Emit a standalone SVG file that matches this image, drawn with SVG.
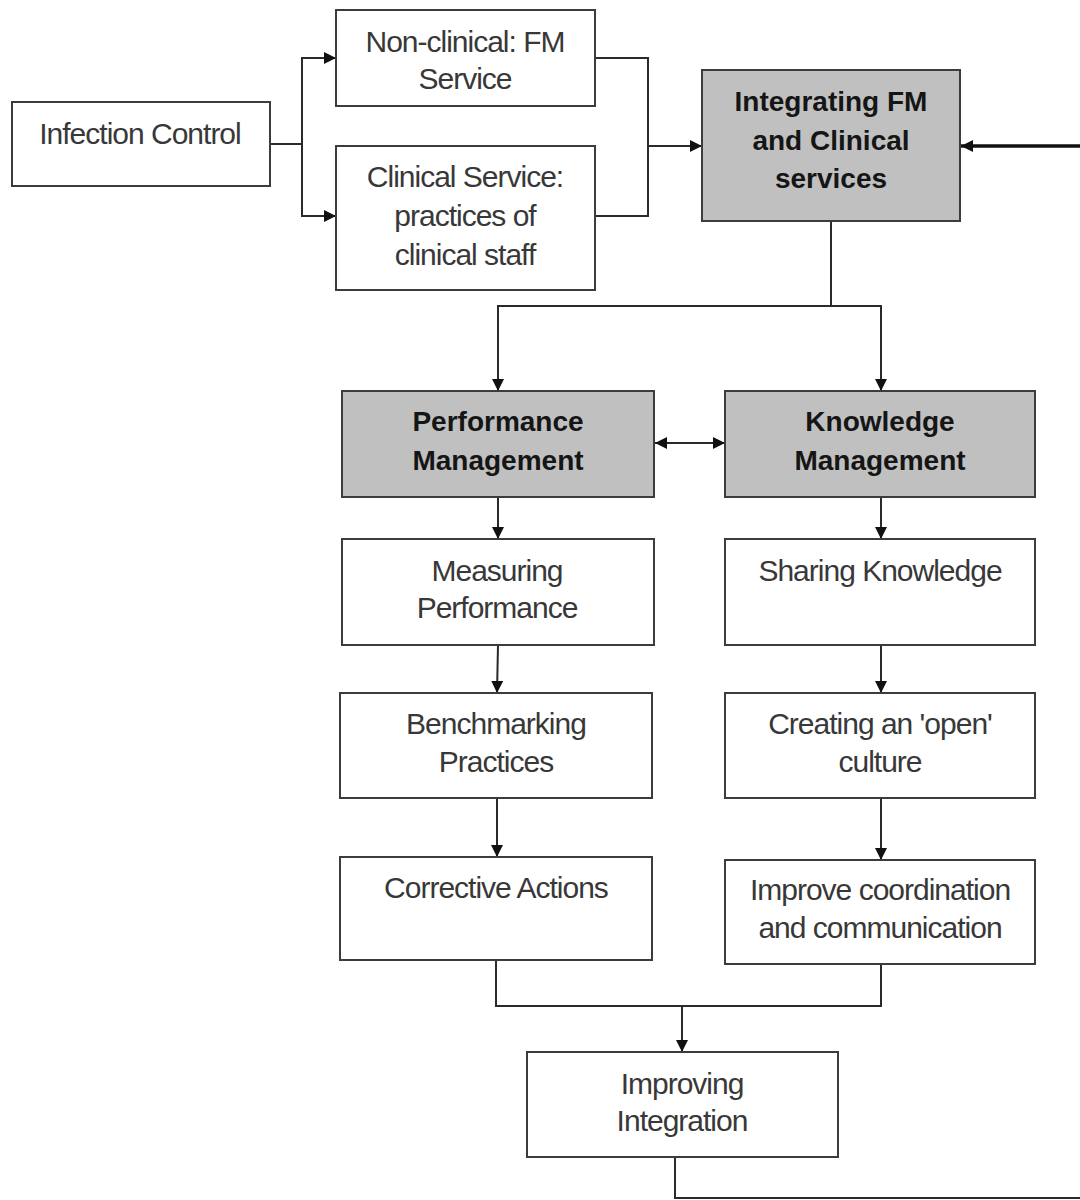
<svg xmlns="http://www.w3.org/2000/svg" width="1080" height="1200" viewBox="0 0 1080 1200">
<defs>
<marker id="ah" viewBox="0 0 10 10" refX="10" refY="5" markerWidth="12" markerHeight="12" markerUnits="userSpaceOnUse" orient="auto-start-reverse">
<path d="M0,0 L10,5 L0,10 Z" fill="#111"/>
</marker>
<style>
.box{fill:#fff;stroke:#3c3c3c;stroke-width:2}
.gbox{fill:#c0c0c0;stroke:#3c3c3c;stroke-width:2}
.t{font-family:"Liberation Sans",Arial,sans-serif;font-size:30px;letter-spacing:-1px;fill:#383838;text-anchor:middle}
.b{font-family:"Liberation Sans",Arial,sans-serif;font-size:28px;font-weight:bold;fill:#151515;text-anchor:middle}
.c{fill:none;stroke:#2a2a2a;stroke-width:2}
.ca{fill:none;stroke:#2a2a2a;stroke-width:2;marker-end:url(#ah)}
</style>
</defs>
<rect width="1080" height="1200" fill="#fff"/>
<g id="connectors">
<path class="c" d="M270,144 H302"/>
<path class="ca" d="M302,144 V58 H336"/>
<path class="ca" d="M302,144 V216 H336"/>
<path class="c" d="M595,58 H648 V216 H595"/>
<path class="ca" d="M648,146 H702"/>
<path d="M1080,146 H961" fill="none" stroke="#111" stroke-width="3.5" marker-end="url(#ah)"/>
<path class="c" d="M831,221 V306"/>
<path class="ca" d="M831,306 H498 V391"/>
<path class="ca" d="M831,306 H881 V391"/>
<path class="ca" d="M655,443 H725" style="marker-start:url(#ah)"/>
<path class="ca" d="M498,497 V539"/>
<path class="ca" d="M881,497 V539"/>
<path class="ca" d="M498,645 L497,693"/>
<path class="ca" d="M881,645 V693"/>
<path class="ca" d="M497,798 V857"/>
<path class="ca" d="M881,798 V860"/>
<path class="c" d="M496,960 V1006 H881 V964"/>
<path class="ca" d="M682,1006 V1052"/>
<path class="c" d="M675,1157 V1198 H1080"/>
</g>
<g id="infection-control">
<rect class="box" x="12" y="102" width="258" height="84"/>
<text class="t" x="140" y="144">Infection Control</text>
</g>
<g id="non-clinical">
<rect class="box" x="336" y="10" width="259" height="96"/>
<text class="t" x="465" y="52">Non-clinical: FM</text>
<text class="t" x="465" y="89">Service</text>
</g>
<g id="clinical-service">
<rect class="box" x="336" y="146" width="259" height="144"/>
<text class="t" x="465" y="187">Clinical Service:</text>
<text class="t" x="465" y="226">practices of</text>
<text class="t" x="465" y="265">clinical staff</text>
</g>
<g id="integrating">
<rect class="gbox" x="702" y="70" width="258" height="151"/>
<text class="b" x="831" y="111">Integrating FM</text>
<text class="b" x="831" y="150">and Clinical</text>
<text class="b" x="831" y="188">services</text>
</g>
<g id="performance-management">
<rect class="gbox" x="342" y="391" width="312" height="106"/>
<text class="b" x="498" y="431">Performance</text>
<text class="b" x="498" y="470">Management</text>
</g>
<g id="knowledge-management">
<rect class="gbox" x="725" y="391" width="310" height="106"/>
<text class="b" x="880" y="431">Knowledge</text>
<text class="b" x="880" y="470">Management</text>
</g>
<g id="measuring-performance">
<rect class="box" x="342" y="539" width="312" height="106"/>
<text class="t" x="497" y="581">Measuring</text>
<text class="t" x="497" y="618">Performance</text>
</g>
<g id="sharing-knowledge">
<rect class="box" x="725" y="539" width="310" height="106"/>
<text class="t" x="880" y="581">Sharing Knowledge</text>
</g>
<g id="benchmarking">
<rect class="box" x="340" y="693" width="312" height="105"/>
<text class="t" x="496" y="734">Benchmarking</text>
<text class="t" x="496" y="772">Practices</text>
</g>
<g id="open-culture">
<rect class="box" x="725" y="693" width="310" height="105"/>
<text class="t" x="880" y="734">Creating an 'open'</text>
<text class="t" x="880" y="772">culture</text>
</g>
<g id="corrective-actions">
<rect class="box" x="340" y="857" width="312" height="103"/>
<text class="t" x="496" y="898">Corrective Actions</text>
</g>
<g id="improve-coordination">
<rect class="box" x="725" y="860" width="310" height="104"/>
<text class="t" x="880" y="900">Improve coordination</text>
<text class="t" x="880" y="938">and communication</text>
</g>
<g id="improving-integration">
<rect class="box" x="527" y="1052" width="311" height="105"/>
<text class="t" x="682" y="1094">Improving</text>
<text class="t" x="682" y="1131">Integration</text>
</g>
</svg>
